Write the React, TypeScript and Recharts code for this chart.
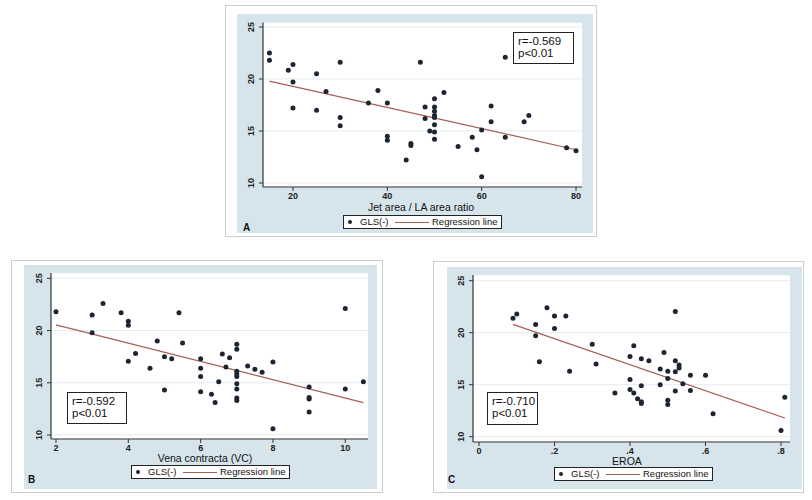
import { CartesianGrid, Scatter, ScatterChart, XAxis, YAxis } from "recharts";

const FONT = '"Liberation Sans", Arial, Helvetica, sans-serif';
const INK = "#1c2531";
const FIT = "#a55f59";
const BAND = "#d6e5ec";

const glsTicks = [10, 15, 20, 25];

// A: jet area / LA area ratio
const jetRatio = [15, 15, 19, 20, 20, 20, 25, 25, 27, 30, 30, 30, 36, 38, 40, 40, 40, 44, 45, 45, 47, 48, 48, 49, 50, 50, 50, 50, 50, 50, 50, 50, 52, 55, 58, 59, 60, 60, 62, 62, 65, 65, 69, 70, 78, 80];
const glsA = [22.5, 21.8, 20.85, 21.4, 19.7, 17.2, 20.5, 17.0, 18.8, 21.6, 16.3, 15.5, 17.7, 18.9, 17.7, 14.5, 14.1, 12.2, 13.8, 13.6, 21.6, 17.3, 16.2, 15.0, 18.1, 17.3, 16.9, 16.5, 16.3, 15.6, 14.9, 14.2, 18.7, 13.5, 14.4, 13.2, 15.1, 10.6, 17.4, 15.9, 22.1, 14.4, 15.9, 16.5, 13.4, 13.1];
const jetTicks = [20, 40, 60, 80];
const fitAx = [15, 80];
const fitAy = [19.8, 13.2];

// B: vena contracta
const vcValues = [2, 3, 3, 3.3, 3.8, 4, 4, 4, 4.2, 4.6, 4.8, 5, 5, 5.2, 5.4, 5.5, 6, 6, 6, 6, 6.3, 6.4, 6.5, 6.6, 6.7, 6.8, 7, 7, 7, 7, 7, 7, 7, 7, 7, 7.3, 7.5, 7.7, 8, 8, 9, 9, 9, 9, 10, 10, 10.5];
const glsB = [21.8, 21.5, 19.8, 22.6, 21.7, 20.9, 20.5, 17.05, 17.8, 16.4, 19.0, 17.5, 14.3, 17.3, 21.7, 18.8, 17.3, 16.4, 15.6, 14.15, 13.9, 13.1, 15.1, 17.75, 16.5, 17.4, 18.7, 18.2, 16.1, 15.85, 15.6, 14.9, 14.4, 13.55, 13.3, 16.6, 16.3, 16.0, 17.0, 10.6, 14.6, 13.6, 13.45, 12.2, 22.1, 14.4, 15.1];
const vcTicks = [2, 4, 6, 8, 10];
const fitBx = [2, 10.5];
const fitBy = [20.55, 13.1];

// C: EROA
const eroaValues = [0.09, 0.1, 0.15, 0.15, 0.16, 0.18, 0.2, 0.2, 0.23, 0.24, 0.3, 0.31, 0.36, 0.4, 0.4, 0.4, 0.41, 0.41, 0.42, 0.43, 0.43, 0.43, 0.43, 0.45, 0.48, 0.48, 0.49, 0.5, 0.5, 0.5, 0.5, 0.52, 0.52, 0.52, 0.52, 0.53, 0.53, 0.54, 0.56, 0.56, 0.6, 0.62, 0.8, 0.81];
const glsC = [21.4, 21.8, 20.8, 19.7, 17.2, 22.4, 21.6, 20.4, 21.6, 16.3, 18.9, 17.0, 14.2, 17.7, 15.5, 14.55, 18.75, 14.2, 13.65, 13.35, 13.2, 17.5, 14.9, 17.3, 16.5, 15.0, 18.1, 16.3, 15.6, 13.5, 13.1, 22.05, 17.3, 16.25, 14.4, 16.9, 16.6, 15.1, 15.9, 14.45, 15.9, 12.2, 10.6, 13.8];
const eroaTicks = [0, 0.2, 0.4, 0.6, 0.8];
const fitCx = [0.09, 0.81];
const fitCy = [20.8, 11.8];

const zip = (xs: number[], ys: number[]) => xs.map((x, i) => ({ x, y: ys[i] }));

const Dot = (p: any) => <circle cx={p.cx} cy={p.cy} r={2.5} fill={INK} />;
const NoDot = () => <g />;

const YTick = ({ x, y, payload }: any) => (
  <text
    x={x}
    y={y}
    transform={`rotate(-90 ${x} ${y})`}
    textAnchor="middle"
    fontSize={9}
    fontWeight="bold"
    fill="#222"
    fontFamily={FONT}
  >
    {payload.value}
  </text>
);

type Box = { l: number; t: number; r: number; b: number };

interface PanelProps {
  xs: number[];
  ys: number[];
  fitX: number[];
  fitY: number[];
  xTicks: number[];
  xDomain: [number, number];
  yDomain: [number, number];
  xFmt?: (v: number) => string;
  frame: Box;
  band: Box;
  plot: Box;
  title: string;
  titleAt: [number, number];
  legendAt: [number, number];
  stat: [string, string];
  statBox: Box;
  letter: string;
  letterAt: [number, number];
}

const Legend = ({ at }: { at: [number, number] }) => (
  <div
    style={{
      position: "absolute",
      left: at[0],
      top: at[1],
      width: 159,
      height: 14,
      boxSizing: "border-box",
      border: "1px solid #222",
      background: "#fff",
      fontSize: 9.5,
      color: "#111",
      lineHeight: "12px",
    }}
  >
    <span style={{ position: "absolute", left: 4, top: 4, width: 4, height: 4, borderRadius: 2, background: INK }} />
    <span style={{ position: "absolute", left: 16, top: 0 }}>GLS(-)</span>
    <span style={{ position: "absolute", left: 51, top: 6, width: 34, height: 1, background: FIT }} />
    <span style={{ position: "absolute", left: 88, top: 0 }}>Regression line</span>
  </div>
);

const Panel = (p: PanelProps) => {
  const { plot } = p;
  return (
    <>
      <div
        style={{
          position: "absolute",
          left: p.frame.l,
          top: p.frame.t,
          width: p.frame.r - p.frame.l,
          height: p.frame.b - p.frame.t,
          boxSizing: "border-box",
          border: "1px solid #c9cdd0",
          background: "#fff",
        }}
      />
      <div
        style={{
          position: "absolute",
          left: p.band.l,
          top: p.band.t,
          width: p.band.r - p.band.l,
          height: p.band.b - p.band.t,
          background: BAND,
        }}
      />
      <div style={{ position: "absolute", left: 0, top: 0 }}>
        <ScatterChart
          width={812}
          height={500}
          margin={{ top: plot.t, left: plot.l - 30, right: 812 - plot.r, bottom: 500 - plot.b - 30 }}
        >
          <CartesianGrid vertical={false} fill="#fff" stroke="#e4ecf0" />
          <XAxis
            type="number"
            dataKey="x"
            domain={p.xDomain}
            ticks={p.xTicks}
            allowDataOverflow
            height={30}
            tickSize={4}
            tickMargin={2}
            tickFormatter={p.xFmt}
            axisLine={{ stroke: "#333", strokeWidth: 1.2 }}
            tickLine={{ stroke: "#333" }}
            tick={{ fontSize: 9, fontWeight: "bold", fill: "#222", fontFamily: FONT }}
          />
          <YAxis
            type="number"
            dataKey="y"
            domain={p.yDomain}
            ticks={glsTicks}
            allowDataOverflow
            width={30}
            tickSize={4}
            tickMargin={5}
            axisLine={{ stroke: "#333", strokeWidth: 1.2 }}
            tickLine={{ stroke: "#333" }}
            tick={<YTick />}
          />
          <Scatter data={zip(p.fitX, p.fitY)} line={{ stroke: FIT, strokeWidth: 1.2 }} shape={NoDot} isAnimationActive={false} />
          <Scatter data={zip(p.xs, p.ys)} shape={Dot} isAnimationActive={false} />
        </ScatterChart>
      </div>
      <div
        style={{
          position: "absolute",
          left: p.titleAt[0] - 100,
          top: p.titleAt[1] - 5,
          width: 200,
          textAlign: "center",
          fontSize: 10.5,
          lineHeight: "10px",
          color: "#111",
        }}
      >
        {p.title}
      </div>
      <Legend at={p.legendAt} />
      <div
        style={{
          position: "absolute",
          left: p.statBox.l,
          top: p.statBox.t,
          width: p.statBox.r - p.statBox.l,
          height: p.statBox.b - p.statBox.t,
          boxSizing: "border-box",
          border: "1.5px solid #222",
          background: "#fff",
          padding: "3px 0 0 4px",
          fontSize: 11.5,
          lineHeight: "11.5px",
          color: "#111",
        }}
      >
        <div>{p.stat[0]}</div>
        <div>{p.stat[1]}</div>
      </div>
      <div
        style={{
          position: "absolute",
          left: p.letterAt[0] - 5,
          top: p.letterAt[1] - 7,
          fontSize: 10,
          fontWeight: "bold",
          lineHeight: "14px",
          color: "#111",
        }}
      >
        {p.letter}
      </div>
    </>
  );
};

const eroaFmt = (v: number) => (v === 0 ? "0" : String(v).replace(/^0/, ""));

export default function App() {
  return (
    <div style={{ position: "absolute", left: 0, top: 0, width: 812, height: 500, background: "#fff", fontFamily: FONT }}>
      <Panel
        xs={jetRatio}
        ys={glsA}
        fitX={fitAx}
        fitY={fitAy}
        xTicks={jetTicks}
        xDomain={[13.64, 81.27]}
        yDomain={[9.615, 25.43]}
        frame={{ l: 225, t: 5, r: 597, b: 237 }}
        band={{ l: 237, t: 14, r: 593, b: 233 }}
        plot={{ l: 263, t: 22.5, r: 582, b: 187 }}
        title="Jet area / LA area ratio"
        titleAt={[421, 207]}
        legendAt={[343, 215]}
        stat={["r=-0.569", "p<0.01"]}
        statBox={{ l: 513, t: 32, r: 574, b: 64 }}
        letter="A"
        letterAt={[248, 228]}
      />
      <Panel
        xs={vcValues}
        ys={glsB}
        fitX={fitBx}
        fitY={fitBy}
        xTicks={vcTicks}
        xDomain={[1.862, 10.628]}
        yDomain={[9.617, 25.51]}
        frame={{ l: 11, t: 260, r: 383, b: 493 }}
        band={{ l: 24, t: 265, r: 377, b: 489 }}
        plot={{ l: 51, t: 273, r: 368, b: 439 }}
        title="Vena contracta (VC)"
        titleAt={[205, 458]}
        legendAt={[131, 465]}
        stat={["r=-0.592", "p<0.01"]}
        statBox={{ l: 67, t: 392, r: 127, b: 424 }}
        letter="B"
        letterAt={[33, 480]}
      />
      <Panel
        xs={eroaValues}
        ys={glsC}
        fitX={fitCx}
        fitY={fitCy}
        xTicks={eroaTicks}
        xDomain={[-0.0159, 0.8238]}
        yDomain={[9.49, 25.548]}
        xFmt={eroaFmt}
        frame={{ l: 433, t: 261, r: 804, b: 493 }}
        band={{ l: 447, t: 267, r: 802, b: 489 }}
        plot={{ l: 473, t: 275, r: 790, b: 442 }}
        title="EROA"
        titleAt={[627, 461]}
        legendAt={[554, 467]}
        stat={["r=-0.710", "p<0.01"]}
        statBox={{ l: 487, t: 392, r: 538, b: 425 }}
        letter="C"
        letterAt={[453, 480]}
      />
    </div>
  );
}
